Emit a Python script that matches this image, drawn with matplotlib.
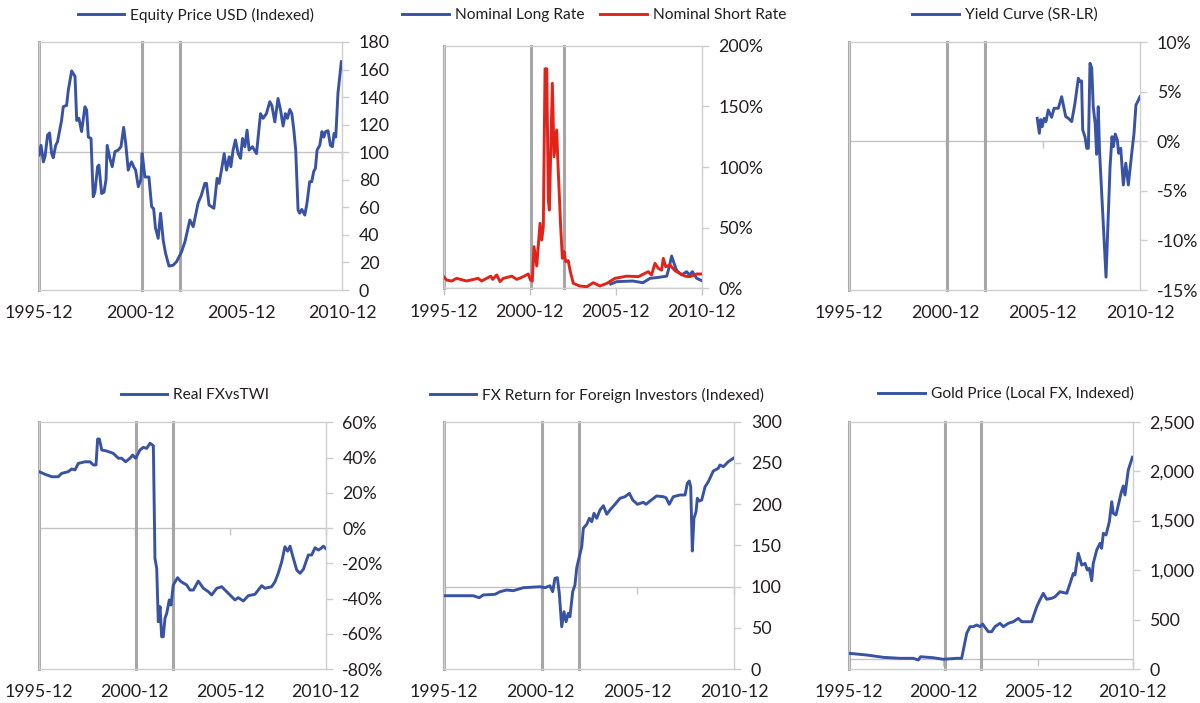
import matplotlib.pyplot as plt
from matplotlib.ticker import FuncFormatter

plt.rcParams['font.family'] = ['Lato', 'DejaVu Sans']

BLUE = '#3953a4'
RED = '#e2231a'
TXT = '#231f20'
BORDER = '#cfcfcf'
REF = '#c4c4c4'
EVENT = '#a6a6a6'

# x = months since 1995-12
x_ticks = [0, 60, 120, 180]
x_labels = ['1995-12', '2000-12', '2005-12', '2010-12']
event_months = [0, 61, 84]

equity = [(0, 98), (1.2, 105), (2.6, 93), (3.6, 97), (5.1, 112.5), (6.3, 114), (7.5, 99), (8.5, 96), (9.9, 105),
          (11, 107.6), (13.4, 123), (14.4, 133), (16.4, 134), (17.4, 145), (19.4, 159), (21.4, 155), (22.4, 123),
          (23.7, 124.6), (25.3, 115), (27.3, 133), (28.3, 130.6), (29.3, 111), (30.9, 110), (32.2, 67.7), (33.2, 71),
          (34.8, 89.5), (35.6, 90.7), (37.2, 70), (38.6, 71), (39.8, 80), (40.5, 105), (42.1, 95.6), (43.5, 89.5),
          (45.1, 100.4), (47.1, 101.6), (48.7, 104), (50.3, 118), (51.5, 106.5), (53, 87), (54, 90.7), (55, 93),
          (56.2, 89.5), (57.4, 87), (59, 75), (60.5, 80), (61.3, 99), (62.9, 82), (65.3, 82), (66.9, 60.5), (68.1, 59),
          (69.2, 45), (70.8, 37.5), (72.2, 55.7), (73.8, 36), (75.2, 26.6), (77.2, 17.4), (79.7, 18), (81.7, 20.5),
          (84.7, 27.8), (86.7, 35), (89.6, 50.8), (91.6, 46), (94.5, 63), (96.5, 69), (98.5, 77.4), (99.5, 77.4),
          (101, 61.7), (103.9, 59.3), (105.8, 81), (107, 77.4), (108.4, 87), (110, 99), (111.4, 87), (113, 96.7),
          (114, 89.5), (115.3, 101.6), (116.7, 108.9), (118.3, 99), (119.7, 95.6), (120.9, 110), (122.3, 104),
          (123.6, 116), (124.8, 101.6), (126.8, 104), (129.2, 99), (131.6, 128), (133.1, 124.6), (135.1, 128),
          (137.1, 136.7), (138.3, 134), (140.1, 122), (142, 139), (143.5, 130.6), (145, 119), (146.4, 128),
          (147.6, 124.6), (149, 131), (150.2, 128), (151.4, 116), (152.5, 101.6), (153.9, 58), (154.9, 55.7),
          (156.1, 58.5), (157.9, 54.4), (159.2, 63), (160.8, 78.6), (162, 78.6), (163.2, 86), (164.2, 88.3),
          (165.2, 101.6), (166.8, 105), (168.1, 115), (169.2, 111), (170.3, 115), (171.7, 115.6), (173.1, 105),
          (174.3, 104), (175.3, 113.7), (176.3, 111), (177.6, 142.8), (179.6, 165.7)]

short_rate = [(0, 9.6), (2, 6.8), (5.6, 6), (9, 8.2), (16, 6), (24, 8.2), (26.5, 6), (32.8, 10), (34.2, 7.4), (37, 11),
              (39.3, 5.5), (41.6, 8.2), (47.4, 10), (51, 7.4), (54.4, 9), (59, 11.8), (60.5, 7), (61.8, 6), (63, 34.3),
              (64.9, 18.4), (67.2, 53.6), (68.4, 39.8), (69.5, 50.8), (70.7, 181), (71.9, 181), (73, 72.8),
              (73.7, 64.5), (75.8, 169), (77, 108.5), (78.8, 130.5), (80, 94.8), (81.6, 50.8), (82.8, 24.7), (84, 30.2),
              (85.1, 22), (86.9, 22.8), (88.1, 15), (90.4, 4.1), (95, 1.9), (99.8, 1.3), (104.4, 4.6), (109, 1.9),
              (113.7, 4), (119.5, 8.2), (127.7, 10), (135.8, 9.6), (142.7, 13.7), (145, 11), (147.4, 20.6),
              (149.7, 16.5), (152, 15), (153.2, 24.7), (154.9, 17.8), (157.9, 19.2), (161.4, 14.5), (168.4, 10),
              (171.8, 9.6), (176.5, 11.8), (180, 11.8)]

long_rate = [(116.5, 3.5), (120.7, 5.5), (132, 6), (139, 4.6), (144, 8.2), (149.7, 9), (155.6, 10), (157.4, 17.8),
             (159, 26.6), (160.7, 20.6), (162.6, 14.5), (166, 11), (169.5, 13.7), (171.4, 11), (173.5, 13.7),
             (176.5, 8.2), (180, 6.3)]

yield_curve = [(116.5, 2.33), (117.8, 0.82), (118.6, 2.2), (119.6, 1.48), (120.7, 2.33), (121.9, 2.0), (123.3, 3.17),
               (125.4, 2.43), (126.9, 3.34), (129.5, 3.34), (131.6, 4.51), (134.1, 2.5), (135.7, 2.33), (137.8, 2.0),
               (139.8, 3.84), (141.9, 6.37), (142.9, 6.03), (143.9, 6.1), (144.6, 1.15), (146, 0.47), (147.1, -0.7),
               (148.1, -0.7), (149.1, 7.88), (150.2, 7.38), (151.1, 3.5), (152.3, 1.8), (153.2, -1.3), (154.2, 3.5),
               (155, -1.0), (159, -13.7), (161.5, -2.55), (162.7, 0.47), (163.5, -0.54), (164.7, 0.74), (166, 0.13),
               (166.8, -1.2), (168.1, -0.7), (169.7, -4.4), (171.2, -2.2), (172.8, -4.4), (174.9, -1.2),
               (176.3, 0.82), (177.5, 3.67), (180, 4.5)]

real_fx = [(0, 32), (3.8, 30.5), (8, 29.1), (12.1, 29.1), (14.2, 31), (18.4, 32), (20.5, 33.5), (22.6, 33),
           (24.7, 36.7), (28.9, 37.6), (32, 37.6), (34.1, 35.8), (35.8, 35.8), (36.8, 50.5), (37.9, 50.5),
           (39.4, 44.3), (42.5, 43.7), (46.6, 42.4), (49.8, 39.6), (51.9, 39.6), (54.4, 37.6), (57.1, 39.6),
           (58.8, 41.4), (60.7, 39.6), (63.4, 44.3), (65.5, 45.8), (67.6, 45.2), (69.7, 48.1), (71.8, 46.7),
           (72.8, -17.2), (73.9, -22.9), (74.9, -53.2), (76, -44.6), (77, -61.7), (78, -61.7), (79.1, -51.2),
           (80.2, -48.4), (81.8, -40.8), (82.9, -43.7), (84.3, -32.3), (87, -28.2), (89.1, -30.4), (92.7, -32.3),
           (94.8, -35.2), (96.9, -35.2), (100, -30.1), (103.2, -34.2), (106.3, -36.1), (108.4, -38), (111.6, -34.2),
           (114.7, -33.3), (117.8, -36.1), (121, -39), (123, -40.8), (125.1, -39.5), (128.3, -41.4), (131.4, -38.4),
           (135.6, -37.6), (139.8, -32.7), (141.9, -34.2), (146.1, -33.3), (148.2, -30.4), (150.2, -25.7),
           (152.4, -19.1), (154.4, -10.6), (156.1, -13.1), (157.6, -10.3), (159.7, -17.2), (161.8, -23.8),
           (163.9, -25.7), (166, -23.4), (169.1, -15.3), (171.2, -15.3), (173.3, -11.2), (175.4, -12.5),
           (177, -11.6), (178.5, -10.3), (180, -11.6)]

fx_return = [(0, 88.9), (18.3, 88.9), (22, 86.5), (24.5, 89.8), (31.8, 90.6), (34.9, 93.8), (39, 95.8), (43.1, 95),
             (49.3, 98.6), (59.6, 99.8), (62.7, 98.6), (65.8, 101), (67.5, 93.8), (68.9, 110), (70.4, 110.8),
             (71.6, 91.8), (73.1, 51.3), (74.5, 69.5), (75.8, 57.4), (77.2, 67.6), (78.2, 63.4), (79.9, 93.8),
             (81.3, 101.9), (82.4, 122.9), (85.5, 148.4), (86.5, 170.7), (88.6, 175.5), (90.2, 182.8), (91.7, 178.7),
             (93.1, 188.9), (94.8, 182.8), (96.8, 192.9), (98.9, 198.1), (101, 187.7), (103, 192.9), (106.1, 199.8),
             (109.2, 207.1), (112.3, 209), (115, 213.1), (117.1, 205), (120, 199.8), (123.6, 202.2), (125.3, 199.8),
             (127.8, 203.8), (131.9, 209.9), (136, 209), (137.7, 207.8), (139.7, 199.8), (142.2, 209), (146.4, 211.1),
             (149.5, 211.1), (150.9, 225.3), (152.1, 228.1), (153, 221.1), (154, 143.1), (155, 182.8), (156.3, 190.8),
             (157.1, 207.1), (158.3, 203.8), (159.8, 205), (161.9, 221.1), (163.9, 227.2), (167, 240.2),
             (170.1, 243.5), (171.1, 247.5), (173.2, 245.4), (176.3, 251.5), (179.4, 255.6)]

gold = [(0, 159), (11.4, 141.5), (21.9, 118), (32.5, 108), (40.9, 108), (44.1, 91), (45.6, 124), (53.6, 114), (60, 98),
        (68.4, 108), (71.6, 108), (74.8, 361), (76.9, 428), (79, 428), (81.1, 445), (83.2, 428), (84.9, 455),
        (86.4, 421), (88.5, 377), (90.6, 377), (92.7, 428), (95.9, 462), (98, 428), (101.2, 462), (104.3, 478),
        (107.5, 512), (109.6, 478), (112.8, 478), (116, 478), (117, 529), (119.2, 630), (121.2, 698), (123.3, 765),
        (125.5, 705), (128.7, 715), (130.8, 731), (133.9, 781), (138.2, 765), (140.3, 866), (142.4, 967),
        (143.4, 950), (145.5, 1170), (147.7, 1051), (149.8, 1068), (151.2, 1001), (152.5, 1018), (154, 893),
        (155, 1068), (157.2, 1203), (159.3, 1271), (160.3, 1220), (161.4, 1372), (163.1, 1355), (165.2, 1489),
        (166.7, 1691), (167.7, 1574), (169.4, 1557), (170.9, 1658), (172.6, 1776), (174, 1850), (175.1, 1759),
        (177.2, 2012), (179.8, 2140)]


W, H = 1200, 703
fig = plt.figure(figsize=(W / 100, H / 100), dpi=100)


def make_ax(x0, y0, x1, y1):
    return fig.add_axes([x0 / W, 1 - y1 / H, (x1 - x0) / W, (y1 - y0) / H])


def style_panel(ax, ymin, ymax, step, ref, fmt):
    ax.set_xlim(0, 180)
    ax.set_ylim(ymin, ymax)
    ax.set_yticks(range(ymin, ymax + 1, step))
    ax.yaxis.set_major_formatter(FuncFormatter(fmt))
    ax.yaxis.tick_right()
    ax.tick_params(axis='y', length=5, width=1, color=BORDER, labelsize=12.8, pad=7, labelcolor=TXT)
    ax.set_xticks(x_ticks)
    ax.set_xticklabels(x_labels)
    ax.tick_params(axis='x', length=0, labelsize=12.8, pad=11, labelcolor=TXT)
    for s in ax.spines.values():
        s.set_color(BORDER)
        s.set_linewidth(1)
    ax.axhline(ref, color=REF, lw=1, zorder=1)
    for m in event_months:
        ax.axvline(m, color=EVENT, lw=2.2, zorder=1.5, clip_on=False)
    # small ticks sitting on the reference line
    sec = ax.secondary_xaxis(ref, transform=ax.transData)
    sec.set_alignment('bottom')
    sec.set_xticks(x_ticks)
    sec.tick_params(length=5, width=1, color=REF, labelbottom=False, labeltop=False)
    for s in sec.spines.values():
        s.set_visible(False)


def add_legend(ax, cx, cy, ncol=1):
    ax.legend(loc='center', bbox_to_anchor=(cx / W, 1 - cy / H), bbox_transform=fig.transFigure,
              frameon=False, fontsize=11.2, handlelength=3.0, handletextpad=0.4, ncol=ncol,
              columnspacing=1.0, borderpad=0, labelcolor=TXT)


pct = lambda v, p: f'{v:.0f}%'
num = lambda v, p: f'{v:.0f}'
comma = lambda v, p: f'{v:,.0f}'
LW = 2.1

# Equity
ax = make_ax(39, 42, 342, 290)
style_panel(ax, 0, 180, 20, 100, num)
ax.plot(*zip(*equity), color=BLUE, lw=LW, label='Equity Price USD (Indexed)', zorder=3)
add_legend(ax, 196, 15)

# Rates
ax = make_ax(443.7, 45.7, 701.7, 288.3)
style_panel(ax, 0, 200, 50, 0, pct)
ax.plot(*zip(*long_rate), color=BLUE, lw=LW, label='Nominal Long Rate', zorder=3)
ax.plot(*zip(*short_rate), color=RED, lw=LW, label='Nominal Short Rate', zorder=3)
add_legend(ax, 594, 15, ncol=2)

# Yield curve
ax = make_ax(848.7, 42.3, 1140, 290)
style_panel(ax, -15, 10, 5, 0, pct)
ax.plot(*zip(*yield_curve), color=BLUE, lw=LW, label='Yield Curve (SR-LR)', zorder=3)
add_legend(ax, 1005, 15)

# Real FX
ax = make_ax(39, 422.3, 325.7, 669)
style_panel(ax, -80, 60, 20, 0, pct)
ax.plot(*zip(*real_fx), color=BLUE, lw=LW, label='Real FXvsTWI', zorder=3)
add_legend(ax, 195, 395)

# FX return
ax = make_ax(443.7, 421.7, 734.3, 669)
style_panel(ax, 0, 300, 50, 100, num)
ax.plot(*zip(*fx_return), color=BLUE, lw=LW, label='FX Return for Foreign Investors (Indexed)', zorder=3)
add_legend(ax, 597, 395)

# Gold
ax = make_ax(848.7, 421.7, 1132.7, 669)
style_panel(ax, 0, 2500, 500, 100, comma)
ax.plot(*zip(*gold), color=BLUE, lw=LW, label='Gold Price (Local FX, Indexed)', zorder=3)
add_legend(ax, 1006, 394)

fig.savefig('out.png', dpi=100)
